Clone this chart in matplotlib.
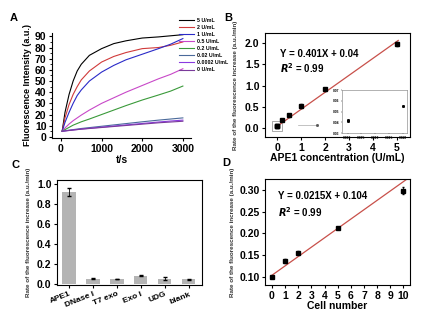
import numpy as np
import matplotlib.pyplot as plt
from matplotlib.ticker import AutoMinorLocator

plt.rcParams['font.family'] = ['Liberation Sans', 'DejaVu Sans']
plt.rcParams['font.weight'] = 'bold'
plt.rcParams['axes.labelweight'] = 'bold'
plt.rcParams['axes.linewidth'] = 0.8
plt.rcParams['xtick.major.width'] = 0.8
plt.rcParams['ytick.major.width'] = 0.8
plt.rcParams['xtick.major.size'] = 2.5
plt.rcParams['ytick.major.size'] = 2.5

# ---------------- Panel A: kinetics ----------------
t_s = [30, 100, 200, 300, 400, 500, 700, 1000, 1300, 1600, 2000, 2400, 2700, 3000]
conc_labels = ["5 U/mL", "2 U/mL", "1 U/mL", "0.5 U/mL", "0.2 U/mL",
               "0.02 U/mL", "0.0002 U/mL", "0 U/mL"]
fl_5 = [5, 22, 38, 50, 59, 65, 73, 79, 83.5, 86, 88.5, 89.5, 90.5, 91.5]
fl_2 = [5, 17, 29, 38, 45, 51, 59, 67, 72, 75.5, 79, 80, 82, 85]
fl_1 = [5, 13, 22, 30, 37, 42, 50, 58, 64, 69, 74, 79, 83, 88]
fl_05 = [5, 8, 11.5, 14.5, 17, 19.5, 24, 30, 35, 40, 46, 52, 56, 61]
fl_02 = [5, 6.5, 8.5, 10.5, 12, 13.5, 16, 20, 24, 28, 33, 37.5, 41, 45.5]
fl_002 = [5, 5.5, 6, 6.5, 7, 7.5, 8.3, 9.5, 10.7, 11.9, 13.5, 15, 16, 17]
fl_00002 = [5, 5.4, 5.8, 6.2, 6.6, 7, 7.7, 8.7, 9.7, 10.7, 12, 13.3, 14.2, 15]
fl_0 = [5, 5.3, 5.7, 6.1, 6.5, 6.9, 7.5, 8.4, 9.3, 10.2, 11.4, 12.6, 13.3, 14]
series_A = [fl_5, fl_2, fl_1, fl_05, fl_02, fl_002, fl_00002, fl_0]
colors_A = ['black', '#d03a3a', '#2a2ac8', '#c848c8', '#3a9a3a',
            '#4a6a9a', '#8a3ae0', '#7a3a9a']

# ---------------- Panel B: APE1 calibration ----------------
ape1_conc = [0, 0.0002, 0.02, 0.2, 0.5, 1, 2, 5]
ape1_rate = [0.041, 0.042, 0.055, 0.19, 0.30, 0.52, 0.91, 1.98]
ape1_err = [0.01, 0.01, 0.01, 0.03, 0.04, 0.05, 0.04, 0.04]
fit_B = (0.401, 0.04)

# ---------------- Panel C: selectivity ----------------
enzymes = ["APE1", "DNase I", "T7 exo", "Exo I", "UDG", "blank"]
enz_rate = [0.92, 0.055, 0.05, 0.085, 0.055, 0.05]
enz_err = [0.04, 0.003, 0.004, 0.004, 0.012, 0.005]

# ---------------- Panel D: cell number ----------------
cells = [0, 1, 2, 5, 10]
cell_rate = [0.099, 0.137, 0.156, 0.212, 0.298]
cell_err = [0.002, 0.004, 0.004, 0.002, 0.008]
fit_D = (0.0215, 0.104)

ylab_rate = "Rate of the fluorescence increase (a.u./min)"

fig = plt.figure(figsize=(4.33, 3.17), dpi=100)
W, H = 433, 317


def px_axes(l, t, r, b):
    return fig.add_axes([l / W, 1 - b / H, (r - l) / W, (b - t) / H])


# Panel A
axA = px_axes(52, 33, 191, 138)
for vals, c, lab in zip(series_A, colors_A, conc_labels):
    axA.plot(t_s, vals, color=c, lw=0.8, label=lab)
axA.set_xlim(-220, 3200)
axA.set_ylim(-1, 93)
axA.set_xticks([0, 1000, 2000, 3000])
axA.set_yticks(range(0, 91, 10))
axA.yaxis.set_minor_locator(AutoMinorLocator(2))
axA.tick_params(which='minor', length=1.5, width=0.6)
axA.spines['top'].set_visible(False)
axA.spines['right'].set_visible(False)
axA.tick_params(which='major', labelsize=7.5, pad=1.5)
axA.set_xlabel("t/s", fontsize=7.5, labelpad=1)
axA.set_ylabel("Fluorescence Intensity (a.u.)", fontsize=6.5, labelpad=2)
leg = fig.legend(loc='upper left', bbox_to_anchor=(176 / W, 1 - 15 / H),
                 fontsize=3.8, frameon=False, handlelength=3.0,
                 labelspacing=0.4, handletextpad=0.5, borderpad=0)
fig.text(10 / W, 1 - 18 / H, "A", fontsize=8, fontweight='bold', va='center')

# Panel B
axB = px_axes(265, 33, 410, 137)
xs = np.array([0, 5.05])
axB.plot(xs, fit_B[0] * xs + fit_B[1], color='#c8504a', lw=0.9)
axB.errorbar(ape1_conc, ape1_rate, yerr=ape1_err, fmt='s', color='black',
             ms=2.2, elinewidth=0.6, capsize=1)
axB.add_patch(plt.Rectangle((-0.2, -0.07), 0.4, 0.235, fill=False,
                            ec='#888888', lw=0.5))
axB.plot([0.88, 1.67], [0.07, 0.07], color='#aaaaaa', lw=0.5)
axB.plot([1.67], [0.07], 's', color='#555555', ms=1)
axB.set_xlim(-0.5, 5.54)
axB.set_ylim(-0.21, 2.24)
axB.set_xticks(range(0, 6))
axB.set_yticks([0.0, 0.5, 1.0, 1.5, 2.0])
axB.tick_params(labelsize=7.5, pad=1.5)
axB.set_xlabel("APE1 concentration (U/mL)", fontsize=7.5, labelpad=0)
axB.set_ylabel(ylab_rate, fontsize=4.5, color='#333333', labelpad=5)
axB.text(0.12, 1.74, "Y = 0.401X + 0.04", fontsize=7, fontweight='bold', va='center')
axB.text(0.12, 1.41, "$\\mathbf{\\it{R}}^\\mathbf{2}$ = 0.99", fontsize=7,
         fontweight='bold', va='center')
fig.text(224 / W, 1 - 18 / H, "B", fontsize=8, fontweight='bold', va='center')

# inset
axI = px_axes(342, 90, 407, 133)
axI.plot(ape1_conc[:3], ape1_rate[:3], 's', color='black', ms=1.1)
axI.set_xlim(-0.002, 0.0215)
axI.set_ylim(0.03, 0.07)
axI.set_xticks([0, 0.005, 0.010, 0.015, 0.020])
axI.set_xticklabels(["0.000", "0.005", "0.010", "0.015", "0.020"])
axI.set_yticks([0.03, 0.04, 0.05, 0.06, 0.07])
axI.tick_params(labelsize=2.3, length=1, width=0.3, pad=0.8)
for s in axI.spines.values():
    s.set_linewidth(0.4)
    s.set_color('#777777')

# Panel C
axC = px_axes(57, 180, 202, 285)
xpos = np.arange(len(enzymes))
axC.bar(xpos, enz_rate, width=0.55, color='#b4b4b4')
axC.errorbar(xpos, enz_rate, yerr=enz_err, fmt='none', ecolor='black',
             elinewidth=0.6, capsize=1.2)
axC.set_xlim(-0.5, 5.55)
axC.set_ylim(-0.01, 1.04)
axC.set_xticks(xpos)
axC.set_xticklabels(enzymes, rotation=22, ha='right', rotation_mode='anchor')
axC.set_yticks([0.0, 0.2, 0.4, 0.6, 0.8, 1.0])
axC.tick_params(axis='y', labelsize=7.5, pad=1.5)
axC.tick_params(axis='x', labelsize=6, pad=1.5)
axC.set_ylabel(ylab_rate, fontsize=4.5, color='#333333', labelpad=4)
fig.text(12 / W, 1 - 165 / H, "C", fontsize=8, fontweight='bold', va='center')

# Panel D
axD = px_axes(265, 179, 410, 285)
xd = np.array([0, 10.5])
axD.plot(xd, fit_D[0] * xd + fit_D[1], color='#c8504a', lw=0.9)
axD.errorbar(cells, cell_rate, yerr=cell_err, fmt='s', color='black',
             ms=2.2, elinewidth=0.6, capsize=1)
axD.set_xlim(-0.53, 10.5)
axD.set_ylim(0.0816, 0.325)
axD.set_xticks(range(0, 11))
axD.set_yticks([0.10, 0.15, 0.20, 0.25, 0.30])
axD.tick_params(labelsize=7.5, pad=1.5)
axD.set_xlabel("Cell number", fontsize=7.5, labelpad=0)
axD.set_ylabel(ylab_rate, fontsize=4.5, color='#333333', labelpad=3)
axD.text(0.45, 0.286, "Y = 0.0215X + 0.104", fontsize=7, fontweight='bold', va='center')
axD.text(0.45, 0.25, "$\\mathbf{\\it{R}}^\\mathbf{2}$ = 0.99", fontsize=7,
         fontweight='bold', va='center')
fig.text(222 / W, 1 - 163 / H, "D", fontsize=8, fontweight='bold', va='center')

fig.savefig("out.png", dpi=100)
